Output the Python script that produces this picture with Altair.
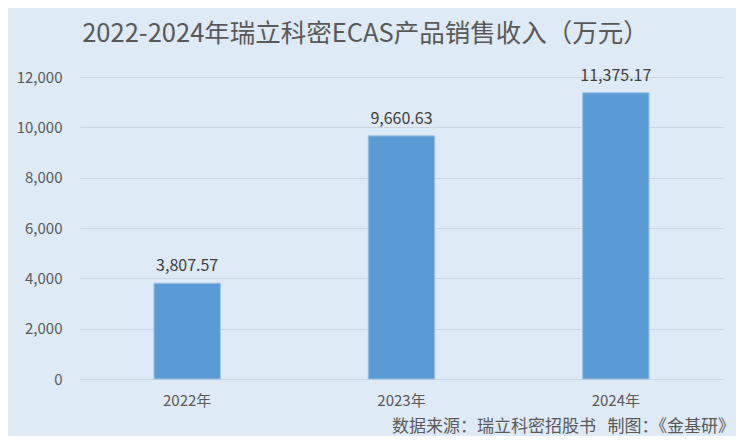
import altair as alt
import pandas as pd

years = ["2022年", "2023年", "2024年"]
revenue = [3807.57, 9660.63, 11375.17]
labels = ["3,807.57", "9,660.63", "11,375.17"]
title_text = "2022-2024年瑞立科密ECAS产品销售收入（万元）"
source_text = "数据来源：瑞立科密招股书\u00a0\u00a0\u00a0制图：《金基研》"

df = pd.DataFrame({"year": years, "value": revenue, "label": labels})

FONT = "Noto Sans CJK SC"
BG = "#DEEAF6"

x_enc = alt.X("year:N", sort=years, title=None,
              scale=alt.Scale(paddingInner=0.69, paddingOuter=0.345),
              axis=alt.Axis(labelAngle=0, labelFontSize=15, labelColor="#595959",
                            labelFont=FONT, labelPadding=14, ticks=False,
                            domain=True, domainColor="#C9D5E2", grid=False))
y_enc = alt.Y("value:Q", title=None,
              scale=alt.Scale(domain=[0, 12000], nice=False),
              axis=alt.Axis(values=[0, 2000, 4000, 6000, 8000, 10000, 12000],
                            format=",.0f", labelFontSize=15, labelColor="#595959",
                            labelFont=FONT, labelPadding=18, ticks=False,
                            domain=False, grid=True, gridColor="#C9D5E2",
                            gridWidth=1))

bars = alt.Chart(df).mark_bar(color="#5B9BD5", stroke="#9DC3E6",
                              strokeWidth=1).encode(x=x_enc, y=y_enc)

text = alt.Chart(df).mark_text(dy=-17, fontSize=16, color="#404040",
                               font=FONT).encode(
    x=alt.X("year:N", sort=years), y="value:Q", text="label:N")

source = alt.Chart(pd.DataFrame({"t": [source_text]})).mark_text(
    align="right", baseline="middle", fontSize=17, color="#595959",
    font=FONT).encode(x=alt.value(655), y=alt.value(350), text="t:N")

chart = alt.layer(bars, text, source).properties(
    width=643, height=302,
    autosize=alt.AutoSizeParams(type="none"),
    padding={"left": 72, "top": 69, "right": 13, "bottom": 57},
    background=BG,
    title=alt.Title(title_text, fontSize=25.5, font=FONT, color="#595959",
                    fontWeight="normal", anchor="middle", dx=-36, offset=20),
).configure_view(stroke=None)

chart.save("out.html", embed_options={"renderer": "svg", "actions": False})
